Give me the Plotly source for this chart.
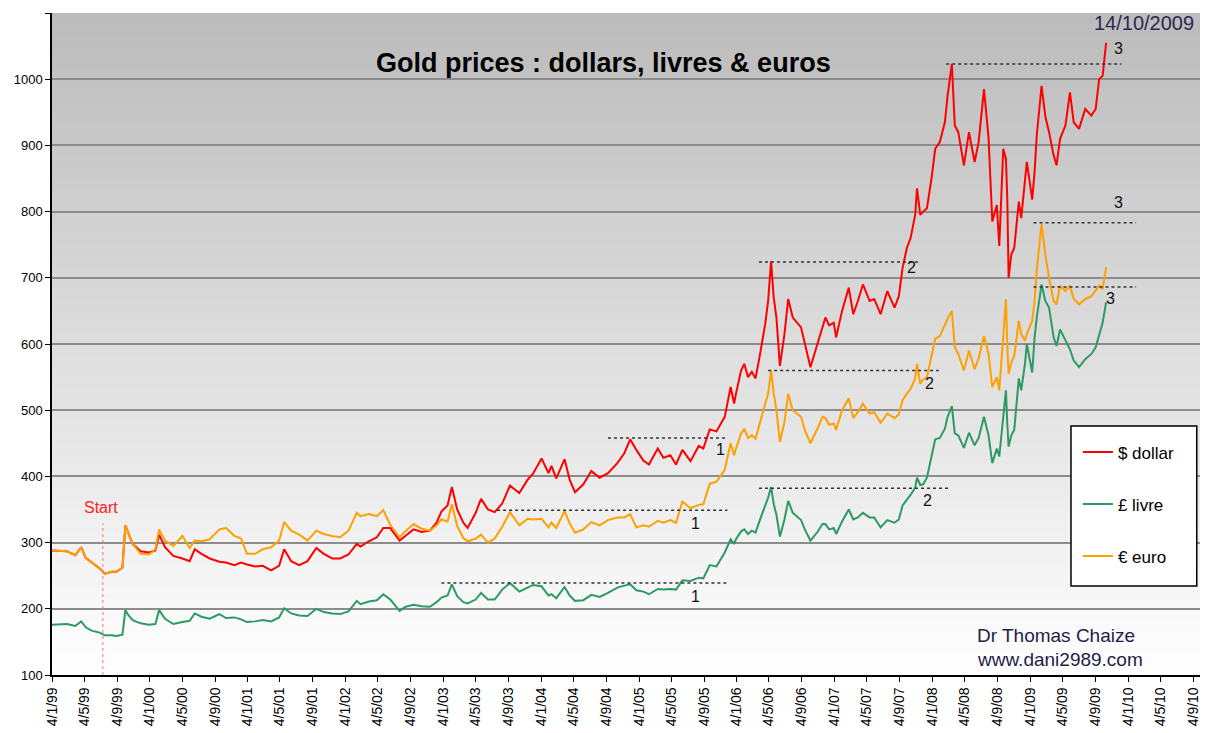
import datetime as dt
import plotly.graph_objects as go

# ---------------- data ----------------
dates = [
    # 1999
    "1999-01-04", "1999-02-01", "1999-03-01", "1999-04-01", "1999-04-23", "1999-05-10", "1999-06-01", "1999-07-01",
    "1999-07-20", "1999-08-15", "1999-09-01", "1999-09-24", "1999-10-05", "1999-10-15", "1999-11-01", "1999-12-01",
    # 2000
    "2000-01-01", "2000-01-25", "2000-02-08", "2000-03-01", "2000-04-01", "2000-05-05", "2000-06-01", "2000-06-20",
    "2000-07-15", "2000-08-15", "2000-09-20", "2000-10-15", "2000-11-15", "2000-12-10",
    # 2001
    "2001-01-01", "2001-02-01", "2001-03-01", "2001-04-01", "2001-05-01", "2001-05-20", "2001-06-15", "2001-07-15",
    "2001-08-15", "2001-09-17", "2001-10-15", "2001-11-15", "2001-12-15",
    # 2002
    "2002-01-15", "2002-02-15", "2002-03-01", "2002-04-01", "2002-05-01", "2002-05-25", "2002-06-20", "2002-07-25",
    "2002-08-15", "2002-09-15", "2002-10-15", "2002-11-15", "2002-12-10", "2002-12-28",
    # 2003
    "2003-01-20", "2003-02-05", "2003-02-25", "2003-03-20", "2003-04-05", "2003-05-05", "2003-05-25", "2003-06-20",
    "2003-07-15", "2003-08-12", "2003-09-10", "2003-10-15", "2003-11-15", "2003-12-05",
    # 2004
    "2004-01-06", "2004-02-01", "2004-02-12", "2004-03-01", "2004-04-01", "2004-04-20", "2004-05-10", "2004-06-10",
    "2004-07-10", "2004-08-10", "2004-09-10", "2004-10-15", "2004-11-10", "2004-12-02", "2004-12-25",
    # 2005
    "2005-01-20", "2005-02-10", "2005-03-15", "2005-04-05", "2005-05-01", "2005-05-22", "2005-06-15", "2005-07-15",
    "2005-08-15", "2005-09-01", "2005-09-25", "2005-10-20", "2005-11-20", "2005-12-12", "2005-12-25",
    # 2006
    "2006-01-01", "2006-01-20", "2006-02-01", "2006-02-15", "2006-03-01", "2006-03-15", "2006-04-01", "2006-04-20",
    "2006-05-01", "2006-05-12", "2006-05-22", "2006-06-01", "2006-06-14", "2006-07-01", "2006-07-15", "2006-08-01",
    "2006-09-01", "2006-09-15", "2006-10-06", "2006-11-01", "2006-11-20", "2006-12-01", "2006-12-15",
    # 2007
    "2007-01-01", "2007-01-10", "2007-02-01", "2007-02-26", "2007-03-15", "2007-04-01", "2007-04-20", "2007-05-15",
    "2007-06-01", "2007-06-25", "2007-07-20", "2007-08-16", "2007-09-01", "2007-09-15", "2007-10-01", "2007-10-15",
    "2007-11-01", "2007-11-08", "2007-11-20", "2007-12-01", "2007-12-15",
    # 2008
    "2008-01-01", "2008-01-15", "2008-02-01", "2008-02-20", "2008-03-01", "2008-03-17", "2008-03-28", "2008-04-10",
    "2008-05-01", "2008-05-20", "2008-06-10", "2008-06-25", "2008-07-15", "2008-08-01", "2008-08-15", "2008-09-01",
    "2008-09-10", "2008-09-25", "2008-10-05", "2008-10-10", "2008-10-15", "2008-10-25", "2008-11-05", "2008-11-22",
    "2008-12-01", "2008-12-15", "2008-12-22",
    # 2009
    "2009-01-11", "2009-01-20", "2009-01-28", "2009-02-15", "2009-03-01", "2009-03-15", "2009-04-01", "2009-04-12",
    "2009-04-25", "2009-05-15", "2009-06-01", "2009-06-15", "2009-07-05", "2009-07-28", "2009-08-20", "2009-09-05",
    "2009-09-18", "2009-10-01", "2009-10-14",
]

usd = [
    288, 287, 287, 281, 293, 277, 270, 261, 253, 256, 256, 262, 326, 315, 298, 287,
    285, 288, 312, 293, 280, 276, 272, 290, 283, 276, 271, 270, 266, 270,
    267, 264, 265, 258, 265, 290, 272, 266, 272, 292, 283, 276, 276,
    282, 298, 294, 302, 308, 322, 322, 303, 310, 320, 316, 318, 330, 347,
    356, 384, 350, 330, 322, 345, 366, 350, 346, 359, 386, 375, 395, 404,
    427, 405, 416, 397, 426, 395, 376, 388, 408, 398, 405, 420, 435, 456, 440,
    424, 418, 442, 428, 432, 418, 440, 423, 446, 442, 471, 468, 490, 535, 510,
    525, 560, 570, 550, 558, 548, 585, 630, 665, 725, 670, 640, 567, 615, 668, 640, 625, 600, 565, 600, 625, 640, 628,
    632, 610, 650, 685, 645, 665, 690, 665, 668, 645, 680, 655, 672, 715, 745, 760, 795, 835, 795, 800, 805,
    850, 895, 905, 935, 975, 1023, 930, 920, 870, 920, 875, 905, 985, 912, 785, 810, 748, 895, 880, 820, 700, 735,
    745, 815, 790, 850, 875,
    818, 860, 915, 990, 944, 920, 885, 870, 910, 930, 980, 935, 925, 955, 945, 955, 1000, 1005, 1055,
]

gbp = [
    176, 176, 177, 174, 181, 172, 167, 164, 160, 160, 159, 161, 198, 191, 183, 178,
    176, 177, 198, 185, 177, 180, 182, 193, 188, 185, 192, 186, 187, 184,
    180, 181, 183, 181, 187, 201, 193, 190, 189, 200, 195, 193, 192,
    196, 212, 207, 211, 213, 222, 214, 197, 203, 206, 204, 203, 210, 217,
    220, 237, 219, 210, 208, 214, 224, 214, 214, 229, 239, 226, 232, 236,
    234, 220, 222, 216, 233, 220, 212, 213, 221, 218, 224, 232, 235, 237, 228,
    226, 222, 230, 229, 230, 229, 243, 242, 247, 246, 266, 264, 285, 305, 298,
    305, 317, 320, 313, 318, 315, 335, 355, 368, 384, 358, 342, 309, 335, 363, 345, 334, 320, 303, 316, 328, 328, 320,
    322, 313, 332, 350, 335, 338, 345, 338, 338, 323, 334, 330, 335, 356, 365, 372, 383, 398, 387, 388, 398,
    430, 456, 458, 472, 490, 506, 465, 462, 443, 466, 447, 458, 490, 462, 420, 442, 430, 488, 530, 480, 445, 462,
    470, 548, 530, 570, 600,
    557, 610, 640, 690, 665, 655, 610, 597, 622, 605, 592, 575, 565, 577, 585, 595, 615, 632, 663,
]

eur = [
    288, 287, 287, 281, 293, 277, 270, 261, 253, 256, 256, 262, 326, 315, 298, 283,
    282, 290, 320, 303, 295, 310, 292, 303, 302, 305, 320, 322, 310, 306,
    283, 283, 290, 293, 303, 331, 318, 312, 303, 318, 313, 310, 308,
    318, 345, 340, 343, 340, 349, 327, 308, 317, 328, 321, 318, 326, 335,
    332, 358, 325, 307, 302, 306, 312, 300, 306, 324, 346, 326, 336, 335,
    336, 323, 330, 322, 348, 329, 315, 320, 331, 326, 334, 338, 338, 343, 323,
    326, 324, 333, 330, 334, 330, 362, 352, 357, 358, 389, 392, 410, 450, 432,
    442, 465, 472, 458, 462, 457, 482, 510, 525, 560, 525, 500, 452, 482, 525, 500, 490, 470, 450, 472, 490, 488, 478,
    480, 470, 500, 518, 488, 497, 510, 495, 497, 481, 495, 488, 494, 515, 525, 532, 548, 570, 540, 546, 550,
    580, 608, 612, 630, 638, 650, 595, 585, 560, 590, 562, 578, 612, 585, 535, 550, 530, 612, 668, 600, 555, 572,
    582, 635, 615, 605, 615,
    635, 665, 712, 781, 735, 700, 665, 660, 688, 680, 688, 668, 660, 668, 672, 680, 688, 683, 716,
]

series_names = ["$ dollar", "£ livre", "€ euro"]
series_colors = ["#ff0000", "#2e9a63", "#ffa000"]

tick_labels = [
    "4/1/99", "4/5/99", "4/9/99", "4/1/00", "4/5/00", "4/9/00", "4/1/01", "4/5/01", "4/9/01",
    "4/1/02", "4/5/02", "4/9/02", "4/1/03", "4/5/03", "4/9/03", "4/1/04", "4/5/04", "4/9/04",
    "4/1/05", "4/5/05", "4/9/05", "4/1/06", "4/5/06", "4/9/06", "4/1/07", "4/5/07", "4/9/07",
    "4/1/08", "4/5/08", "4/9/08", "4/1/09", "4/5/09", "4/9/09", "4/1/10", "4/5/10", "4/9/10",
]
y_ticks = [100, 200, 300, 400, 500, 600, 700, 800, 900, 1000, 1100]

# dotted resistance lines: (start date, end date, level, label, label date, label level)
ref_lines = [
    ("2004-09-10", "2005-11-30", 458, "1", "2005-11-03", 441),
    ("2003-07-24", "2005-11-30", 349, "1", "2005-08-01", 329),
    ("2002-12-28", "2005-11-30", 239, "1", "2005-08-01", 219),
    ("2006-03-28", "2007-11-16", 724, "2", "2007-10-19", 715),
    ("2006-05-01", "2008-01-28", 560, "2", "2007-12-25", 541),
    ("2006-03-28", "2008-03-10", 382, "2", "2007-12-16", 364),
    ("2008-02-25", "2009-12-10", 1023, "3", "2009-11-28", 1047),
    ("2009-01-16", "2010-02-03", 783, "3", "2009-11-28", 814),
    ("2009-01-16", "2010-02-03", 686, "3", "2009-11-01", 669),
]
start_date = "1999-07-13"
start_top = 329

assert len(dates) == len(usd) == len(gbp) == len(eur)


def parse_label(s):
    d, m, y = s.split("/")
    return dt.date(2000 + int(y), int(m), int(d)) if int(y) < 50 else dt.date(1900 + int(y), int(m), int(d))


tick_vals = [parse_label(s).isoformat() for s in tick_labels]

FONT = "Liberation Sans, Arial, sans-serif"

fig = go.Figure()
for name, vals, col in zip(series_names, [usd, gbp, eur], series_colors):
    fig.add_trace(go.Scatter(
        x=dates, y=vals, mode="lines", name=name, legendgroup=name,
        line=dict(color=col, width=2),
    ))

shapes = []
# gradient background of the plot area (overlapping bands to avoid seams)
N = 60
for i in range(N):
    p = (i + 0.5) / N
    c = int(round(255 - 68 * p))
    shapes.append(dict(type="rect", xref="paper", yref="paper", x0=0, x1=1, y0=i / N,
                       y1=min(1.0, (i + 1.6) / N),
                       fillcolor=f"rgb({c},{c},{c})", line=dict(width=0), layer="below"))
# right border
shapes.append(dict(type="line", xref="paper", yref="paper", x0=1, x1=1, y0=0, y1=1,
                   line=dict(color="#888888", width=2)))

annotations = []
for x0, x1, lvl, lab, lx, ly in ref_lines:
    shapes.append(dict(type="line", xref="x", yref="y", x0=x0, x1=x1, y0=lvl, y1=lvl,
                       line=dict(color="#333333", width=1.5, dash="dot")))
    annotations.append(dict(x=lx, y=ly, xref="x", yref="y", text=lab, showarrow=False,
                            font=dict(family=FONT, size=16, color="#111111")))

shapes.append(dict(type="line", xref="x", yref="y", x0=start_date, x1=start_date, y0=100, y1=start_top,
                   line=dict(color="#ff7070", width=1, dash="dot")))
annotations.append(dict(x="1999-07-07", y=353, xref="x", yref="y", text="Start", showarrow=False,
                        font=dict(family=FONT, size=16, color="#ff2020")))

# legend frame
shapes.append(dict(type="rect", xref="paper", yref="paper", x0=0.883, x1=0.992, y0=0.1344, y1=0.3761,
                   fillcolor="white", line=dict(color="black", width=1.5)))

annotations += [
    dict(x=0.478, y=0.950, xref="paper", yref="paper", text="<b>Gold prices : dollars, livres & euros</b>",
         showarrow=False, font=dict(family=FONT, size=27, color="black")),
    dict(x=0.991, y=0.985, xref="paper", yref="paper", xanchor="right", yanchor="middle", text="14/10/2009",
         showarrow=False, font=dict(family=FONT, size=20, color="#2a2a50")),
    dict(x=0.8, y=0.0604, xref="paper", yref="paper", xanchor="left", yanchor="middle", text="Dr Thomas Chaize",
         showarrow=False, font=dict(family=FONT, size=19, color="#1e1e48")),
    dict(x=0.8, y=0.0227, xref="paper", yref="paper", xanchor="left", yanchor="middle", text="www.dani2989.com",
         showarrow=False, font=dict(family=FONT, size=19, color="#1e1e48")),
]

# the page body adds an 8 px offset, so the figure is 8 px smaller than the window
fig.update_layout(
    width=1200, height=725,
    margin=dict(l=44, r=2, t=5, b=58, autoexpand=False),
    paper_bgcolor="white", plot_bgcolor="white",
    shapes=shapes, annotations=annotations,
    showlegend=True,
    legend=dict(x=0.889, y=0.3635, xanchor="left", yanchor="top", bgcolor="rgba(0,0,0,0)",
                borderwidth=0, font=dict(family=FONT, size=17, color="black"),
                tracegroupgap=27, itemwidth=30),
    xaxis=dict(type="date", range=["1999-01-04", "2010-10-22"], tickmode="array",
               tickvals=tick_vals, ticktext=tick_labels, tickangle=-90, automargin=False,
               ticks="outside", ticklen=5, tickcolor="black", showgrid=False,
               showline=True, linecolor="black", linewidth=1.5,
               tickfont=dict(family=FONT, size=14, color="black"), zeroline=False),
    yaxis=dict(range=[100, 1100], tickmode="array", tickvals=y_ticks, automargin=False,
               ticks="outside", ticklen=5, tickcolor="black",
               showgrid=True, gridcolor="#8c8c8c", gridwidth=1.5,
               showline=True, linecolor="black", linewidth=1.5,
               tickfont=dict(family=FONT, size=13, color="black"), zeroline=False),
)

fig.write_html("out.html")
